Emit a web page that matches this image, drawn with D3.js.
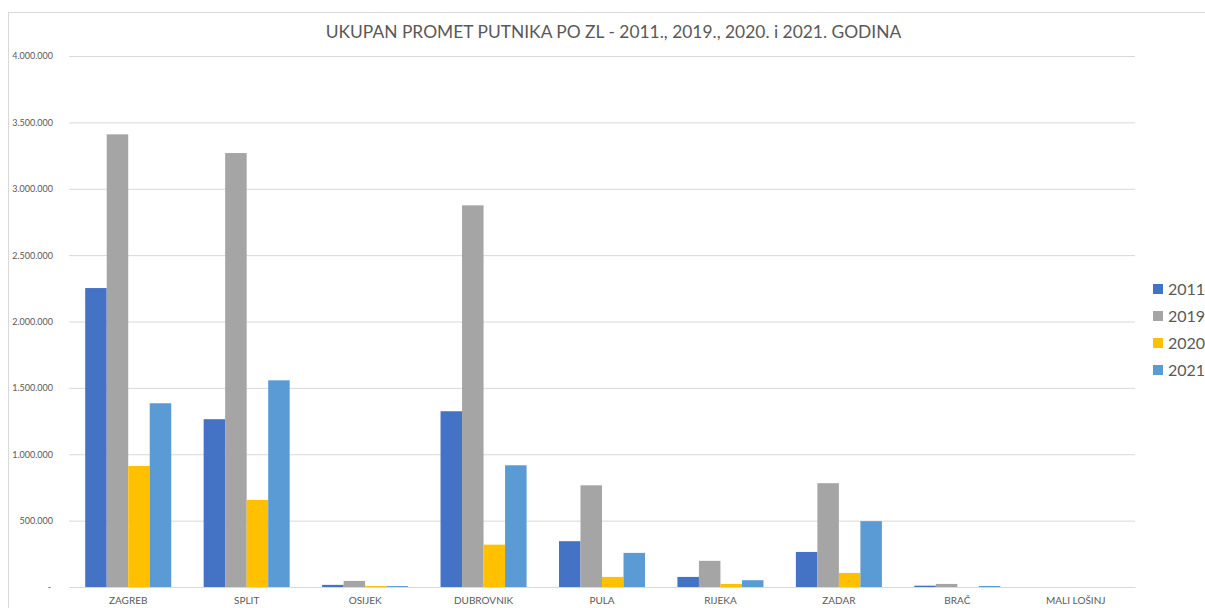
<!DOCTYPE html>
<html>
<head>
<meta charset="utf-8">
<script src="https://cdn.jsdelivr.net/npm/d3@7"></script>
<style>
  html, body { margin: 0; padding: 0; background: #fff; }
  svg { display: block; }
</style>
</head>
<body>
<svg id="chart" width="1205" height="608"></svg>
<script>
const categories = ["ZAGREB", "SPLIT", "OSIJEK", "DUBROVNIK", "PULA", "RIJEKA", "ZADAR", "BRAČ", "MALI LOŠINJ"];
const seriesNames = ["2011", "2019", "2020", "2021"];
const values2011 = [2252000, 1264000, 16000, 1324000, 345000, 76000, 264000, 10000, 0];
const values2019 = [3410000, 3269000, 46000, 2875000, 766000, 197000, 782000, 23000, 0];
const values2020 = [912000, 656000, 7000, 319000, 76000, 23000, 106000, 0, 0];
const values2021 = [1384000, 1557000, 7000, 917000, 257000, 51000, 496000, 8000, 0];
const yTicks = [0, 500000, 1000000, 1500000, 2000000, 2500000, 3000000, 3500000, 4000000];
const colors = ["#4472C4", "#A5A5A5", "#FFC000", "#5B9BD5"];
const titleText = "UKUPAN PROMET PUTNIKA PO ZL - 2011., 2019., 2020. i 2021. GODINA";

const seriesValues = [values2011, values2019, values2020, values2021];
const data = categories.map((c, i) => ({ cat: c, vals: seriesNames.map((s, j) => ({ key: s, value: seriesValues[j][i] })) }));

const svg = d3.select("#chart");
const font = "Lato, 'Open Sans', sans-serif";

// chart border
svg.append("rect").attr("x", 8.5).attr("y", 12.5).attr("width", 1205).attr("height", 610)
  .attr("fill", "none").attr("stroke", "#d9d9d9").attr("stroke-width", 1);

const pLeft = 69, pRight = 1135, pTop = 56, pBottom = 587;
const x = d3.scaleBand().domain(categories).range([pLeft, pRight]).paddingInner(0).paddingOuter(0);
const inner = d3.scaleBand().domain(seriesNames).range([16.2, x.bandwidth() - 16.2]).padding(0);
const y = d3.scaleLinear().domain([0, 4000000]).range([pBottom, pTop]);

const fmt = v => v === 0 ? "-" : d3.format(",")(v).replace(/,/g, ".");

// gridlines + y labels
const yAxis = d3.axisLeft(y).tickValues(yTicks).tickSize(-(pRight - pLeft)).tickFormat(fmt).tickPadding(16);
const gy = svg.append("g").attr("transform", `translate(${pLeft},0)`).call(yAxis);
gy.select(".domain").remove();
gy.selectAll(".tick line").attr("stroke", "#d9d9d9").attr("stroke-width", 1);
gy.selectAll(".tick text").attr("fill", "#595959").attr("font-family", font).attr("font-size", 9)
  .attr("x", -16);
gy.selectAll(".tick").filter(d => d === 0).select("text").attr("x", -18);

// bars
const groups = svg.append("g").selectAll("g").data(data).join("g")
  .attr("transform", d => `translate(${x(d.cat)},0)`);
groups.selectAll("rect").data(d => d.vals.filter(v => v.value > 0)).join("rect")
  .attr("x", d => inner(d.key))
  .attr("width", inner.bandwidth())
  .attr("y", d => y(d.value))
  .attr("height", d => y(0) - y(d.value))
  .attr("fill", d => colors[seriesNames.indexOf(d.key)]);

// x axis
const xAxis = d3.axisBottom(x).tickSize(0).tickPadding(10);
const gx = svg.append("g").attr("transform", `translate(0,${pBottom})`).call(xAxis);
gx.select(".domain").attr("stroke", "#d9d9d9");
gx.selectAll(".tick text").attr("fill", "#595959").attr("font-family", font).attr("font-size", 10);

// title
svg.append("text").attr("x", 613.5).attr("y", 38).attr("text-anchor", "middle")
  .attr("fill", "#595959").attr("font-family", font).attr("font-size", 17.4)
  .text(titleText);

// legend
const legend = svg.append("g").selectAll("g").data(seriesNames).join("g")
  .attr("transform", (d, i) => `translate(1153,${289 + i * 27})`);
legend.append("rect").attr("x", 0).attr("y", -5).attr("width", 10).attr("height", 10)
  .attr("fill", (d, i) => colors[i]);
legend.append("text").attr("x", 15).attr("y", 0).attr("dy", "0.36em")
  .attr("fill", "#595959").attr("font-family", font).attr("font-size", 16).text(d => d);
</script>
</body>
</html>
